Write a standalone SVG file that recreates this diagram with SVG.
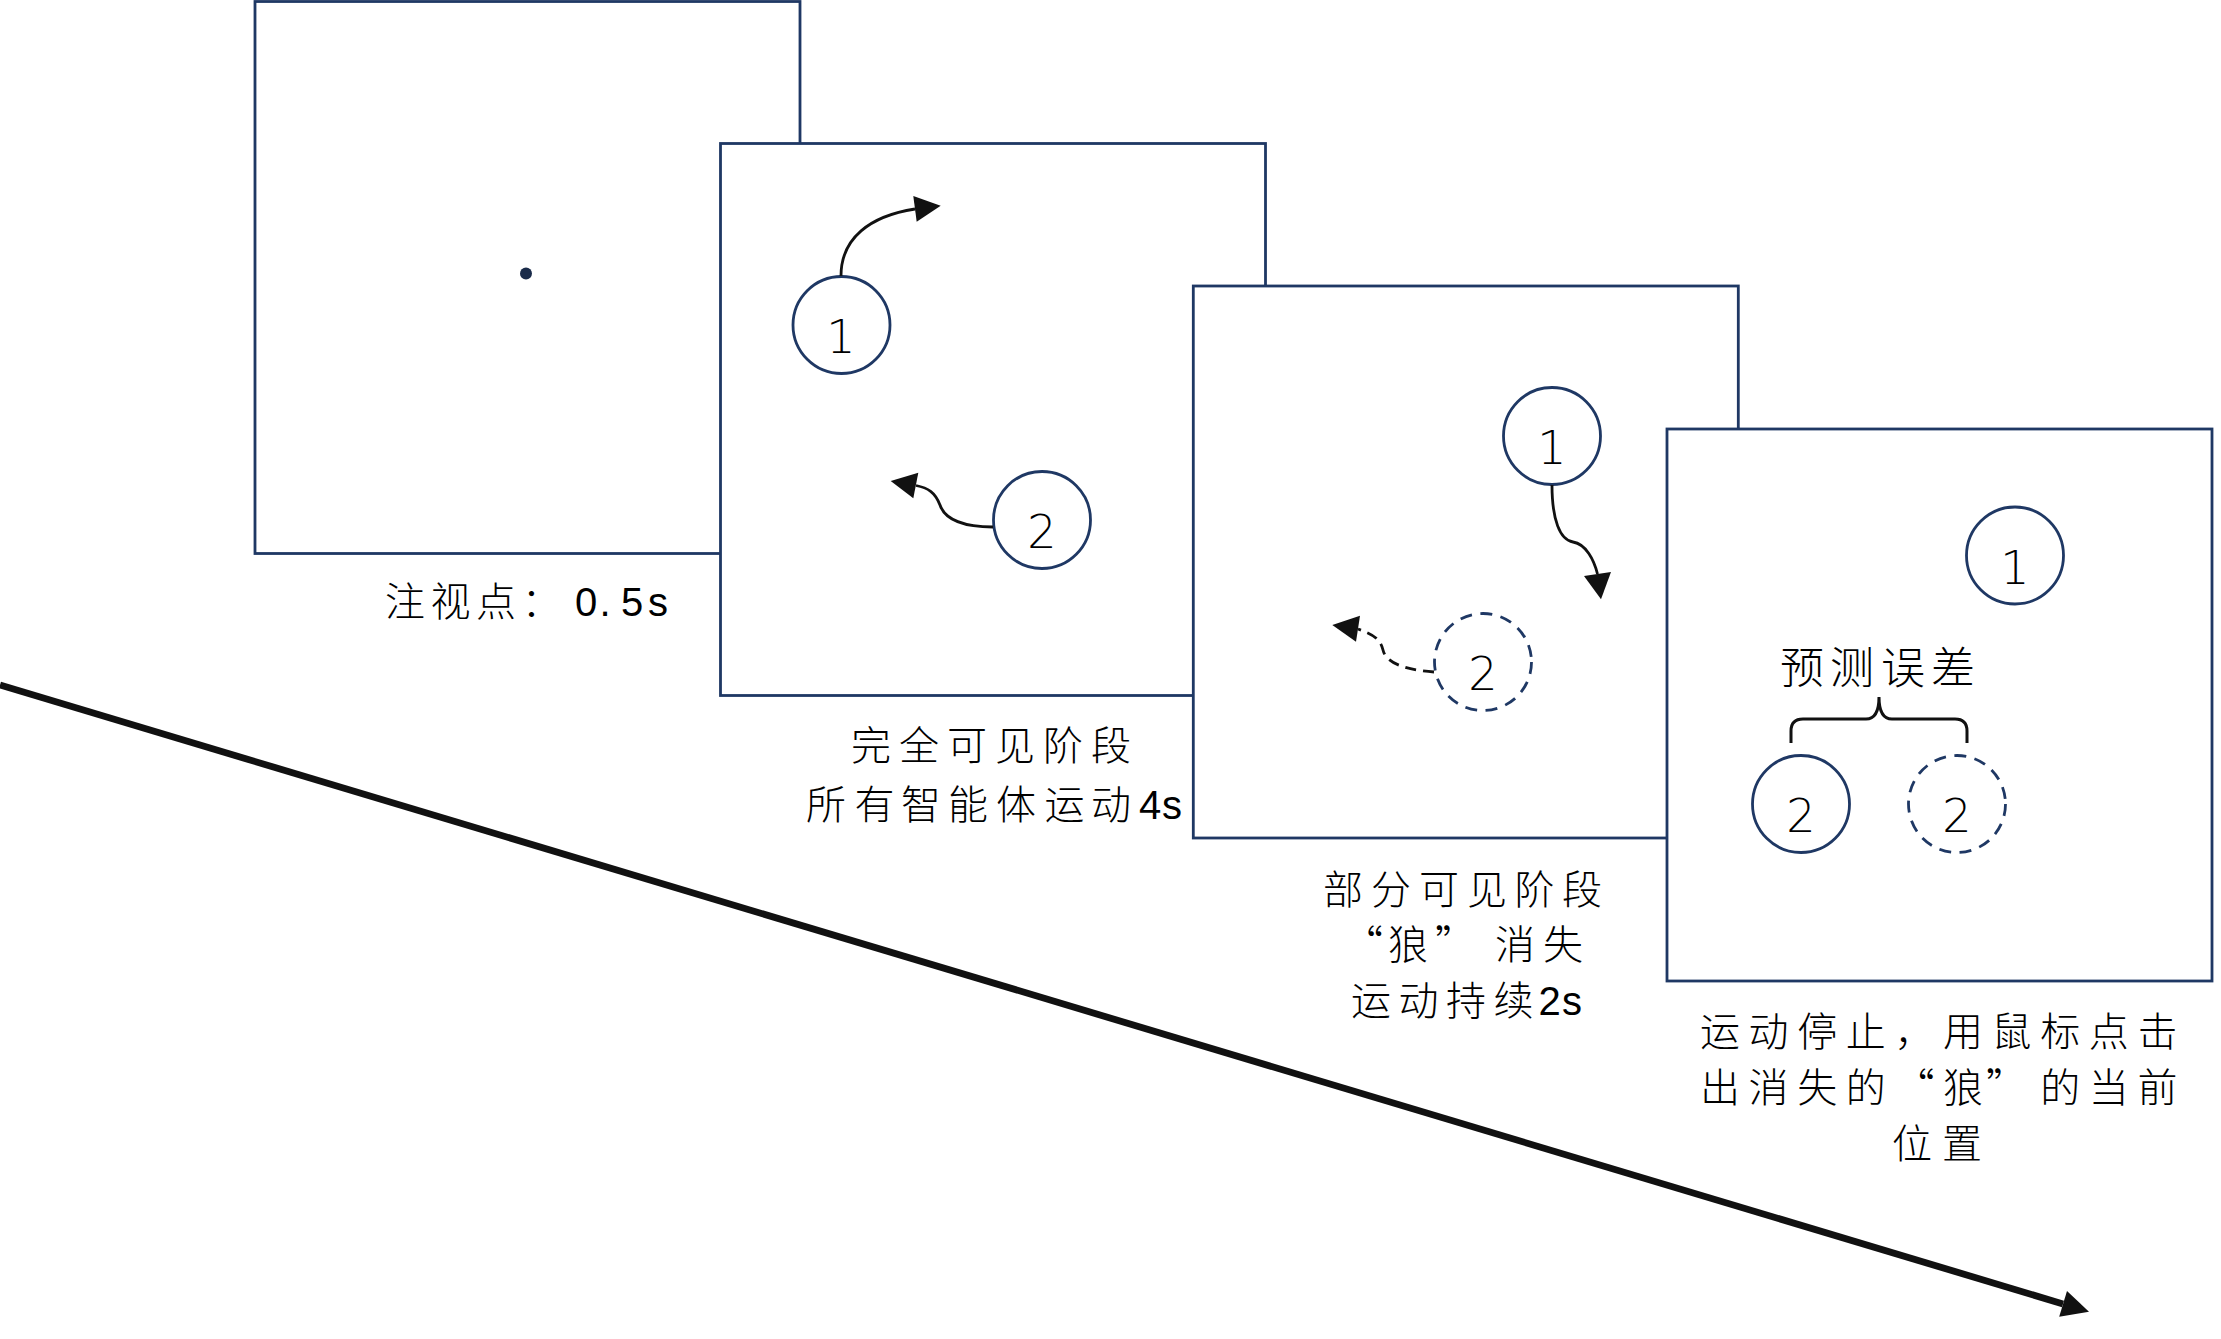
<svg xmlns="http://www.w3.org/2000/svg" width="2221" height="1339" viewBox="0 0 2221 1339">
<style>
.frame{fill:#fff;stroke:#1F3864;stroke-width:2.8}
.agent{fill:#fff;stroke:#1F3864;stroke-width:2.8}
.ghost{fill:none;stroke:#1F3864;stroke-width:2.8;stroke-dasharray:12 8.5}
.num{font-family:"DejaVu Sans","Liberation Sans",sans-serif;font-size:46px;font-weight:200;text-anchor:middle;fill:#000}
.lbl{font-family:"Noto Sans CJK SC","Noto Sans CJK JP",sans-serif;font-size:40px;font-weight:300;fill:#000}
.big{font-size:44px}
.lat{font-family:"Liberation Sans",Arial,sans-serif;font-weight:400}
.mv{fill:none;stroke:#111;stroke-width:2.8}
.dash{stroke-dasharray:11 7}
.head{fill:#111}
.brace{fill:none;stroke:#111;stroke-width:3}
.time{fill:none;stroke:#111;stroke-width:6.8}
</style>

<g id="frame-fixation">
  <rect class="frame" x="255" y="1.5" width="545" height="552"/>
  <circle cx="526" cy="273.5" r="6" fill="#1a2b4a"/>
  <text class="lbl" y="616"><tspan x="385 430.5 476 521.5">注视点：</tspan><tspan class="lat" x="575 599.5 621 648">0.5s</tspan></text>
</g>

<g id="frame-visible">
  <rect class="frame" x="720.5" y="143.5" width="545" height="552"/>
  <g id="v-agent1">
    <circle class="agent" cx="841.5" cy="325" r="48.5"/>
    <text class="num" x="841" y="353">1</text>
  </g>
  <g id="v-agent2">
    <circle class="agent" cx="1042" cy="520" r="48.5"/>
    <text class="num" x="1042" y="548">2</text>
  </g>
  <text class="lbl" y="760" x="851 899 947 995 1043 1091">完全可见阶段</text>
  <text class="lbl" y="819"><tspan x="806 854.5 901 948 996 1044.5 1091">所有智能体运动</tspan><tspan class="lat" x="1139 1162">4s</tspan></text>
</g>

<g id="frame-partial">
  <rect class="frame" x="1193.3" y="286" width="545" height="552"/>
  <g id="p-agent1">
    <circle class="agent" cx="1552" cy="436" r="48.5"/>
    <text class="num" x="1552" y="464">1</text>
  </g>
  <g id="p-agent2-hidden">
    <circle class="ghost" cx="1483" cy="662" r="48.5"/>
    <text class="num" x="1483" y="690">2</text>
  </g>
  <text class="lbl" y="904" x="1323 1371 1419 1467 1514.5 1562">部分可见阶段</text>
  <text class="lbl" y="959" x="1343 1388 1435 1495 1543">“狼”消失</text>
  <text class="lbl" y="1015"><tspan x="1351 1398.5 1446 1493.5">运动持续</tspan><tspan class="lat" x="1538.5 1562">2s</tspan></text>
</g>

<g id="frame-response">
  <rect class="frame" x="1667" y="429" width="545" height="552"/>
  <g id="r-agent1">
    <circle class="agent" cx="2015" cy="555.5" r="48.5"/>
    <text class="num" x="2015" y="584">1</text>
  </g>
  <g id="r-agent2-true">
    <circle class="agent" cx="1801" cy="804" r="48.5"/>
    <text class="num" x="1801" y="832">2</text>
  </g>
  <g id="r-agent2-guess">
    <circle class="ghost" cx="1957" cy="804" r="48.5"/>
    <text class="num" x="1957" y="832">2</text>
  </g>
  <g id="r-error">
    <text class="lbl big" y="683.5" x="1780 1830 1881 1931">预测误差</text>
    <path class="brace" d="M1791,743 L1791,731 Q1791,719 1803,719 L1866,719 Q1879,719 1879,697 Q1879,719 1892,719 L1955,719 Q1967,719 1967,731 L1967,743"/>
  </g>
  <text class="lbl" y="1046" x="1700 1748.6 1797.2 1845.8 1894.4 1943 1991.6 2040.2 2088.8 2137.4">运动停止，用鼠标点击</text>
  <text class="lbl" y="1102" x="1700 1748.6 1797.2 1845.8 1894.4 1943 1986 2040.2 2088.8 2137.4">出消失的“狼”的当前</text>
  <text class="lbl" y="1158" x="1892 1942">位置</text>
</g>

<g id="connectors">
  <path class="mv" d="M841,276 C841,238 870,216 915,209"/>
  <polygon class="head" points="940.7,205.7 913.3,196 916.7,221.7"/>
  <path class="mv" d="M993,527 C965,527 945,520 940,505 C935,492 928,488 916,485.5"/>
  <polygon class="head" points="890.7,481 918.3,472.7 913.3,498.3"/>
  <path class="mv" d="M1552,485 C1552,520 1560,540 1573,542 C1586,544 1594,560 1597.5,574"/>
  <polygon class="head" points="1584,576 1611,572 1601,599.3"/>
  <path class="mv dash" d="M1434,672 C1405,670 1386,663 1383,650 C1380,638 1372,634 1358,629"/>
  <polygon class="head" points="1332.3,625 1360,615.7 1356,641.7"/>
  <g id="timeline">
    <path class="time" d="M0,685 L2063,1303.9"/>
    <polygon class="head" points="2089,1311.7 2067,1291 2059.2,1316.8"/>
  </g>
</g>
</svg>
